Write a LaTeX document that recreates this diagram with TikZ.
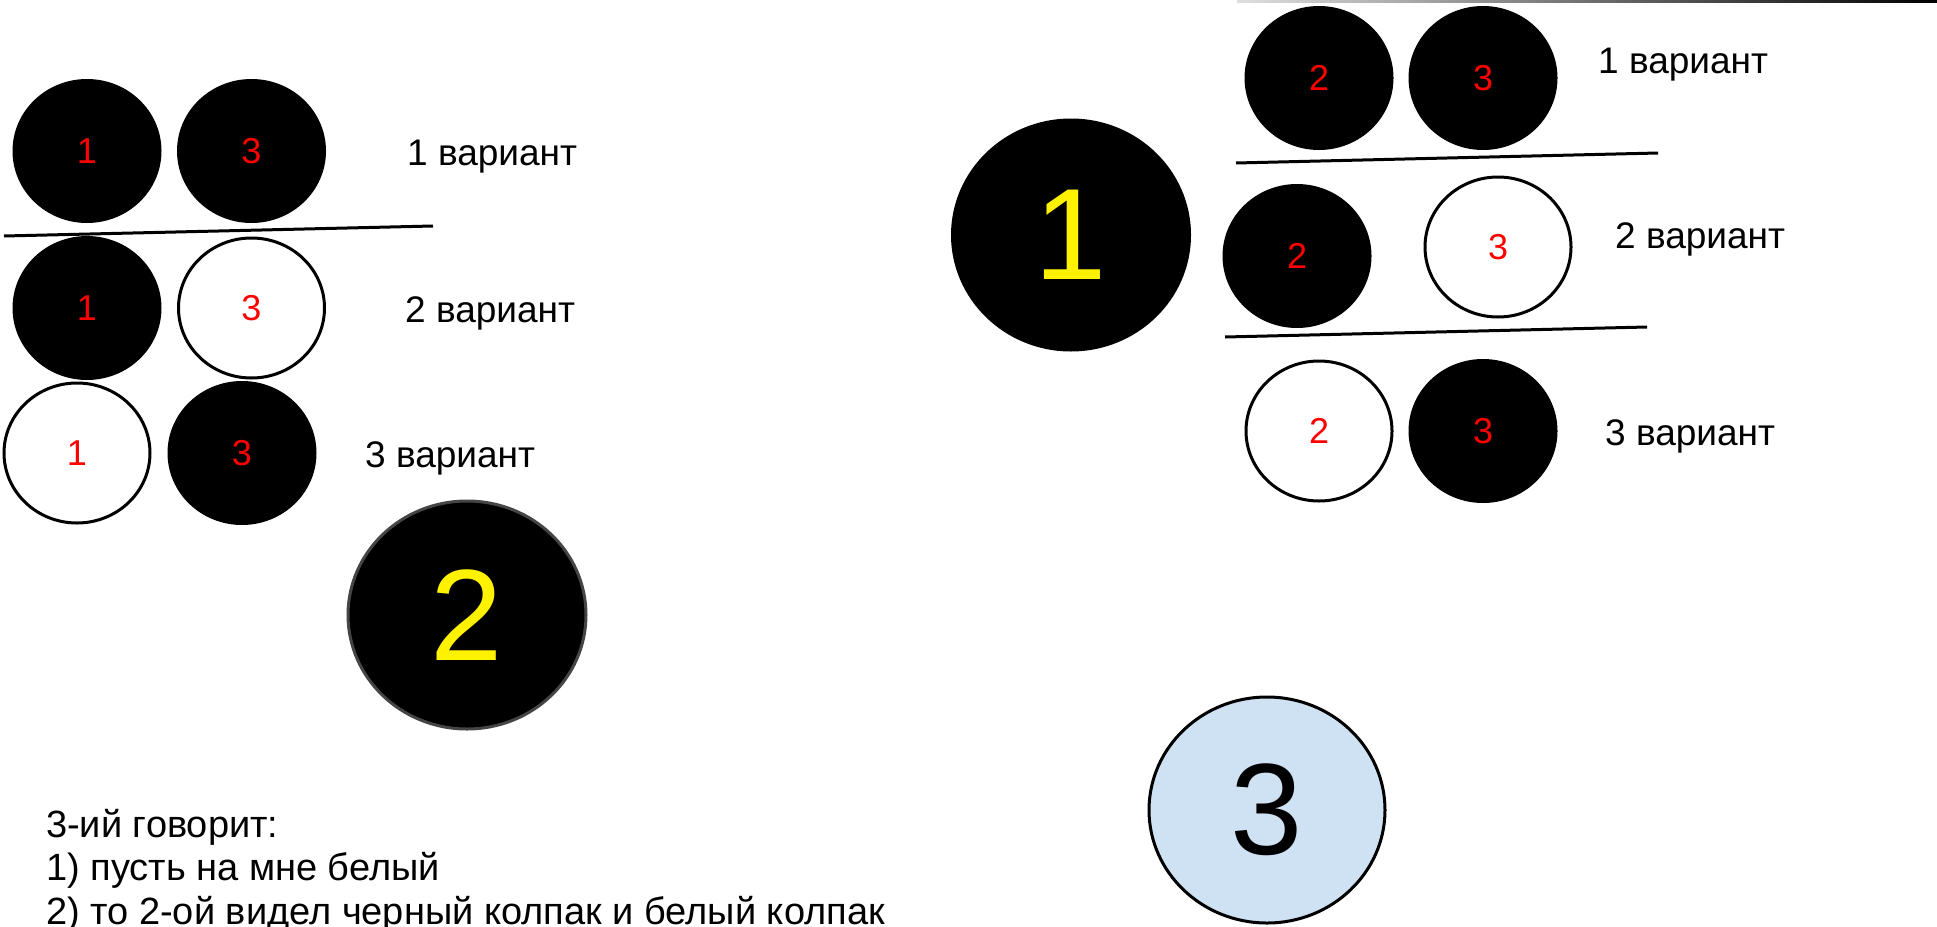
\documentclass[tikz,border=0pt]{standalone}
\usepackage{fontspec}
\setmainfont{Liberation Sans}
\usetikzlibrary{shapes.geometric}
\definecolor{hatblue}{HTML}{CFE2F3}
\definecolor{ringgray}{HTML}{454545}
\tikzset{
  hat/.style={ellipse, minimum width=149pt, minimum height=144pt, inner sep=0pt,
    font=\fontsize{36}{36}\selectfont, text=red},
  blackhat/.style={hat, fill=black},
  whitehat/.style={hat, draw=black, line width=3pt, fill=white,
    minimum width=146pt, minimum height=140pt},
  varlabel/.style={anchor=base west, inner sep=0pt, font=\fontsize{37}{37}\selectfont},
  bigman/.style={ellipse, inner sep=0pt, line width=3pt, font=\fontsize{130}{130}\selectfont},
  sepline/.style={line width=3pt},
  note/.style={anchor=base west, inner sep=0pt, font=\fontsize{38}{38}\selectfont}
}
\begin{document}
\begin{tikzpicture}[x=1pt, y=-1pt]
\useasboundingbox (0,0) rectangle (1937,926);
\fill[white] (0,0) rectangle (1937,926);

% top faint line
\shade[left color=gray!25, right color=black] (1237,0) rectangle (1937,2.5);

% ---- left group (person 2 sees) ----
\node[blackhat] (l11) at (87,151) {1};
\node[blackhat] (l13) at (251.5,151) {3};
\coordinate (la) at (4,236);
\coordinate (lb) at (433,226);
\draw[sepline] (la) -- (lb);
\node[blackhat] (l21) at (87,308) {1};
\node[whitehat] (l23) at (251.5,308) {3};
\node[whitehat] (l31) at (77,453) {1};
\node[blackhat] (l33) at (242,453) {3};
\node[varlabel] (lv1) at (407,165) {1 вариант};
\node[varlabel] (lv2) at (405,322) {2 вариант};
\node[varlabel] (lv3) at (365,467) {3 вариант};

% ---- person 2 ----
\node[bigman, fill=black, draw=ringgray, minimum width=238pt, minimum height=228pt, text=yellow] (p2) at (467,615) {2};

% ---- person 1 ----
\node[bigman, fill=black, minimum width=240pt, minimum height=233pt, text=yellow] (p1) at (1071,235) {1};

% ---- right group (person 1 sees) ----
\node[blackhat] (r12) at (1319,78) {2};
\node[blackhat] (r13) at (1483,78) {3};
\coordinate (ra) at (1236,163);
\coordinate (rb) at (1658,153);
\draw[sepline] (ra) -- (rb);
\node[blackhat] (r22) at (1297,256) {2};
\node[whitehat] (r23) at (1498,247) {3};
\coordinate (rc) at (1225,337);
\coordinate (rd) at (1647,327);
\draw[sepline] (rc) -- (rd);
\node[whitehat] (r32) at (1319,431) {2};
\node[blackhat] (r33) at (1483,431) {3};
\node[varlabel] (rv1) at (1598,73) {1 вариант};
\node[varlabel] (rv2) at (1615,248) {2 вариант};
\node[varlabel] (rv3) at (1605,445) {3 вариант};

% ---- person 3 ----
\node[bigman, fill=hatblue, draw=black, minimum width=236pt, minimum height=226pt, text=black] (p3) at (1267,810) {3};

% ---- note ----
\node[note] (n1) at (46,837) {3-ий говорит:};
\node[note] (n2) at (46,880) {1) пусть на мне белый};
\node[note] (n3) at (46,924) {2) то 2-ой видел черный колпак и белый колпак};
\end{tikzpicture}
\end{document}
